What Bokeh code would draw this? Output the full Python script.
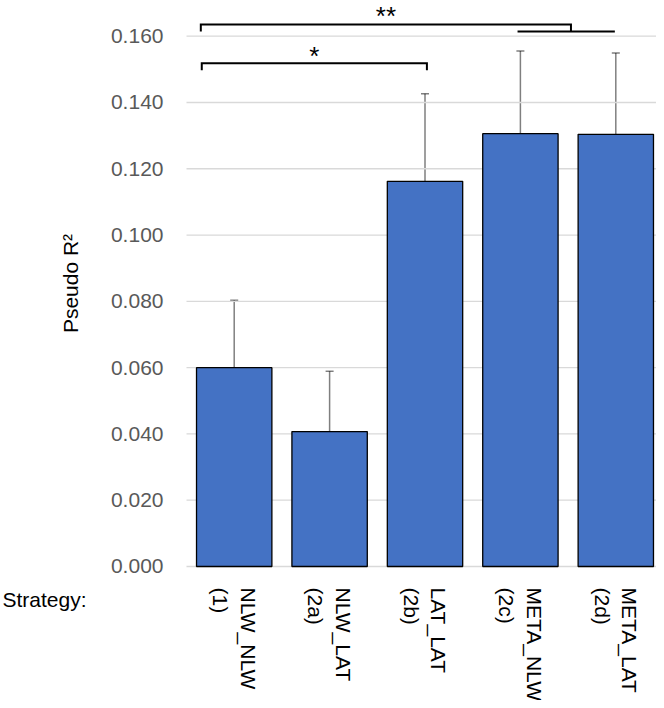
from bokeh.plotting import figure
from bokeh.models import (Range1d, LinearAxis, FixedTicker, PrintfTickFormatter,
                          Whisker, TeeHead, ColumnDataSource)
from bokeh.embed import file_html
from bokeh.resources import INLINE
from bokeh.core.properties import value
import math

# ---- data ----
strategies = ["NLW_NLW\n(1)", "NLW_LAT\n(2a)", "LAT_LAT\n(2b)", "META_NLW\n(2c)", "META_LAT\n(2d)"]
pseudo_r2 = [0.0600, 0.0407, 0.1162, 0.1306, 0.1304]
err_upper = [0.0803, 0.0589, 0.1426, 0.1555, 0.1549]
err_lower = [0.0398, 0.0224, 0.0899, 0.1055, 0.1059]
y_ticks = [0.0, 0.02, 0.04, 0.06, 0.08, 0.10, 0.12, 0.14, 0.16]
x_title = "Strategy:"
y_title = "Pseudo R²"

# significance brackets (x in category units, first category centred at 0.5)
bracket_x0 = [0.16, 0.15]
bracket_x1 = [2.52, 4.03]
bracket_top = [0.1518, 0.1635]
bracket_bottom = [0.1497, 0.1614]
bracket_labels = ["*", "**"]
bracket_label_y = [0.1541, 0.1662]
sub_bracket_x = [3.47, 4.49]
sub_bracket_y = 0.1614

FONT = "Liberation Sans"

x_pos = [i + 0.5 for i in range(len(strategies))]
src = ColumnDataSource(dict(x=x_pos, r2=pseudo_r2, upper=err_upper, lower=err_lower))

p = figure(width=656, height=700, output_backend="svg", toolbar_location=None,
           x_range=Range1d(-1.9497, 4.9266), y_range=Range1d(-0.04043, 0.17077),
           x_axis_location=None, y_axis_location=None,
           min_border_left=0, min_border_right=0, min_border_top=0, min_border_bottom=0)
p.outline_line_color = None
p.background_fill_color = "white"
p.border_fill_color = "white"
p.xgrid.visible = False
p.ygrid.visible = False

# horizontal gridlines across the plot area
p.segment(x0=0, x1=len(strategies), y0=y_ticks, y1=y_ticks,
          line_color="#d9d9d9", line_width=1.3)

p.vbar(x="x", top="r2", width=0.79, source=src,
       fill_color="#4472C4", line_color="black", line_width=1.3)

head_kw = dict(size=8, line_color="black", line_alpha=0.5, line_width=1.5)
p.add_layout(Whisker(base="x", upper="upper", lower="lower", source=src,
                     line_color="black", line_alpha=0.5, line_width=1.5,
                     upper_head=TeeHead(**head_kw), lower_head=TeeHead(**head_kw)))

# brackets
xs, ys = [], []
for x0, x1, yt, yb in zip(bracket_x0, bracket_x1, bracket_top, bracket_bottom):
    xs.append([x0, x0, x1, x1])
    ys.append([yb, yt, yt, yb])
xs.append(sub_bracket_x)
ys.append([sub_bracket_y, sub_bracket_y])
p.multi_line(xs=xs, ys=ys, line_color="black", line_width=2, line_join="miter")

p.text(x=[(a + b) / 2 for a, b in zip(bracket_x0, bracket_x1)], y=bracket_label_y,
       text=bracket_labels, text_font=value(FONT), text_font_size="26px",
       text_color="black", text_align="center", text_baseline="alphabetic")

# "Strategy:" caption left of the category labels
p.text(x=[-1.929], y=[-0.00996], text=[x_title], text_font=value(FONT),
       text_font_size="21px", text_color="black", text_align="left",
       text_baseline="alphabetic")

# y axis fixed at the left edge of the plot area
yaxis = LinearAxis(fixed_location=0, ticker=FixedTicker(ticks=y_ticks),
                   formatter=PrintfTickFormatter(format="%.3f"),
                   bounds=(0.0, 0.1707))
yaxis.axis_line_color = None
yaxis.major_tick_line_color = None
yaxis.minor_tick_line_color = None
yaxis.major_tick_out = 0
yaxis.major_tick_in = 0
yaxis.major_label_standoff = 23
yaxis.major_label_text_font = FONT
yaxis.major_label_text_font_size = "21px"
yaxis.major_label_text_color = "#595959"
yaxis.axis_label = y_title
yaxis.axis_label_text_font = FONT
yaxis.axis_label_text_font_size = "21px"
yaxis.axis_label_text_font_style = "normal"
yaxis.axis_label_text_color = "black"
yaxis.axis_label_standoff = 26
p.add_layout(yaxis, "left")

# category axis fixed at y = 0
xaxis = LinearAxis(fixed_location=0, ticker=FixedTicker(ticks=x_pos),
                   major_label_overrides={x: s for x, s in zip(x_pos, strategies)},
                   bounds=(0, len(strategies)))
xaxis.axis_line_color = None
xaxis.major_tick_line_color = None
xaxis.minor_tick_line_color = None
xaxis.major_tick_out = 0
xaxis.major_tick_in = 0
xaxis.major_label_standoff = 21
xaxis.major_label_orientation = -math.pi / 2
xaxis.major_label_text_font = FONT
xaxis.major_label_text_font_size = "21px"
xaxis.major_label_text_color = "black"
p.add_layout(xaxis, "below")

open("out.html", "w").write(file_html(p, INLINE))
